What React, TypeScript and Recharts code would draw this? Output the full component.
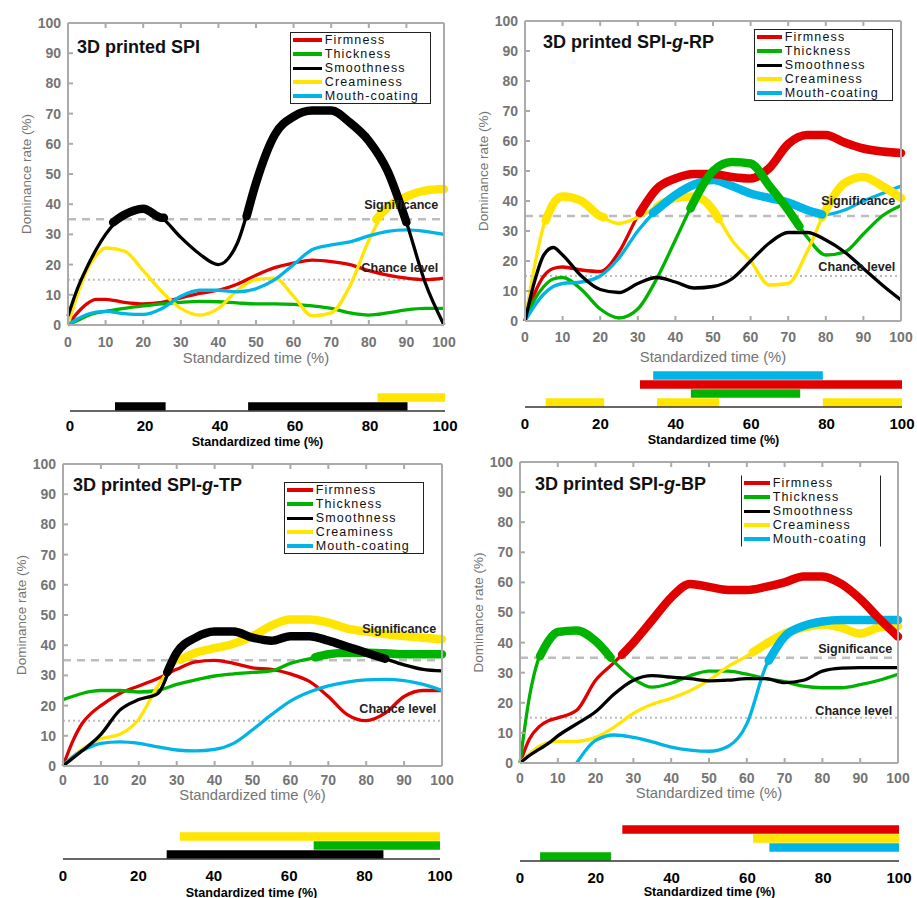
import React from 'react';
import { LineChart, Line, XAxis, YAxis, ReferenceLine, ReferenceDot } from 'recharts';

// ---------- shared categories / ticks ----------
const TIME = [0, 2.5, 5, 7.5, 10, 15, 20, 25, 30, 35, 40, 45, 50, 55, 60, 65, 70, 75, 80, 85, 90, 95, 100];
const ATTRIBUTES = ['Firmness', 'Thickness', 'Smoothness', 'Creaminess', 'Mouth-coating'];
const COLORS = ['#e10000', '#00b300', '#000000', '#ffe500', '#00b5e5'];
const AXIS_TICKS = [0, 10, 20, 30, 40, 50, 60, 70, 80, 90, 100];
const STRIP_TICKS = [0, 20, 40, 60, 80, 100];
const SIGNIFICANCE_LEVEL = 35;
const CHANCE_LEVEL = 15;

// ---------- 3D printed SPI ----------
const SPI_FIRMNESS = [0, 4, 7, 8.5, 8.5, 7.5, 7, 7.5, 9, 10.5, 11.5, 13.5, 16.5, 19, 20.5, 21.5, 21, 20, 18, 16.5, 15.5, 15, 15.5];
const SPI_THICKNESS = [0, 1.5, 3, 4, 4.5, 5.5, 6.3, 7, 7.5, 7.8, 7.7, 7.3, 7, 7, 6.8, 6.3, 5.5, 4, 3.3, 4, 5, 5.5, 5.5];
const SPI_SMOOTHNESS = [3, 12, 19, 25, 30, 36.5, 38.5, 35.5, 29, 23.5, 20, 27, 47, 63, 69, 71, 71, 67, 61, 51, 34, 14, 0];
const SPI_CREAMINESS = [0, 10, 18, 23, 25.5, 24.5, 18, 11, 5.5, 3.3, 5.5, 11.5, 15, 15.5, 9.5, 3, 4, 13, 28, 39, 42.5, 44.5, 45];
const SPI_MOUTHCOATING = [0, 2, 3.5, 4.3, 4.5, 3.8, 3.5, 5.5, 9.5, 11.5, 11.5, 11, 12, 15, 20, 25, 26.5, 27.5, 29.5, 31, 31.5, 31, 30];
const SPI_SIGNIFICANT = [
  { attr: 3, start: 82, end: 100, yStart: 35, yEnd: 45 },
  { attr: 2, start: 12, end: 25.5, yStart: 34, yEnd: 35.5 },
  { attr: 2, start: 47.5, end: 90, yStart: 36, yEnd: 34 },
];
const SPI_STRIP_ROWS = [2, 3];
const SPI_LEVEL_LABEL_Y = [39.8, 19];

// ---------- 3D printed SPI-g-RP ----------
const RP_FIRMNESS = [0, 9, 15, 17.5, 18, 17, 16.5, 23, 35, 44, 47.5, 49, 49, 48, 47.5, 51, 59, 62, 62, 59.5, 57.5, 56.5, 56];
const RP_THICKNESS = [0, 7, 11.5, 14, 14.5, 10.5, 4, 1, 4, 14, 27, 40, 50, 53, 52.5, 45, 37, 28, 22, 23, 29, 35, 38.5];
const RP_SMOOTHNESS = [0, 13, 22, 24.5, 22, 15, 10.5, 9.5, 12.5, 14.5, 13, 11, 11.5, 14, 20, 26, 29.5, 29.5, 27, 23, 17.5, 12, 7];
const RP_CREAMINESS = [0, 18, 32, 39, 41.5, 40, 35, 32.5, 34.5, 38, 41, 41.5, 37, 27, 20, 12, 12.5, 23, 37, 46, 48, 45, 41];
const RP_MOUTHCOATING = [0, 5, 9, 11.5, 12.5, 13, 15, 21, 30, 37, 42, 45.5, 47, 45, 42.5, 41, 39.5, 37, 35.5, 37, 40, 42.5, 45];
const RP_SIGNIFICANT = [
  { attr: 3, start: 5.5, end: 21, yStart: 33.5, yEnd: 34.5 },
  { attr: 3, start: 35, end: 51.5, yStart: 38, yEnd: 34 },
  { attr: 3, start: 79, end: 100, yStart: 34.5, yEnd: 41 },
  { attr: 4, start: 34, end: 79, yStart: 36, yEnd: 35.5 },
  { attr: 0, start: 30.5, end: 100, yStart: 36, yEnd: 56 },
  { attr: 1, start: 44, end: 73, yStart: 37.5, yEnd: 31.5 },
];
const RP_STRIP_ROWS = [3, 1, 0, 4];
const RP_LEVEL_LABEL_Y = [40, 18.2];

// ---------- 3D printed SPI-g-TP ----------
const TP_FIRMNESS = [0, 8, 14, 17.5, 20, 24, 26.5, 29, 32, 34.5, 35, 34, 32.5, 32, 30.5, 28, 23, 17, 15, 17.5, 23, 25, 25];
const TP_THICKNESS = [22, 23, 24, 24.7, 25, 25, 24.5, 25, 27, 28.5, 29.8, 30.5, 31, 31.5, 34, 35.5, 37, 37.5, 37.5, 37.3, 37, 37, 37];
const TP_SMOOTHNESS = [0, 2.5, 5, 7.5, 10.5, 18.5, 22, 24, 37.5, 42.5, 44.5, 44.5, 42.5, 41.5, 43, 43, 41.5, 39.5, 37.5, 35.5, 33.5, 32, 31.5];
const TP_CREAMINESS = [0, 3, 5.5, 7.5, 9, 10.5, 15.5, 26.5, 34.5, 37.5, 39, 40.5, 43, 46.5, 48.5, 48.5, 47.5, 45.5, 44.5, 43.7, 43, 42.5, 42];
const TP_MOUTHCOATING = [0, 3, 5, 6.5, 7.5, 8, 7.5, 6.3, 5.3, 5, 5.5, 7.5, 12, 17, 21.5, 24.5, 26.5, 27.8, 28.5, 28.7, 28.3, 27, 25];
const TP_SIGNIFICANT = [
  { attr: 3, start: 31, end: 100, yStart: 35.2, yEnd: 42 },
  { attr: 1, start: 66.5, end: 100, yStart: 36, yEnd: 37 },
  { attr: 2, start: 27.5, end: 85, yStart: 31, yEnd: 35.5 },
];
const TP_STRIP_ROWS = [2, 1, 3];
const TP_LEVEL_LABEL_Y = [45.6, 19.1];

// ---------- 3D printed SPI-g-BP ----------
const BP_FIRMNESS = [0, 8, 12, 14, 15, 17.5, 27.5, 33.5, 40, 47.5, 55, 59.5, 58.5, 57.5, 57.5, 58.5, 60, 62, 62, 59.5, 54.5, 48, 42];
const BP_THICKNESS = [0, 22, 35, 40.5, 43.5, 44, 40.5, 33.5, 28, 25.2, 26.5, 29, 30.5, 30.5, 29.5, 28, 27, 25.5, 25, 25, 26, 27.5, 29.5];
const BP_SMOOTHNESS = [0, 2.5, 4.5, 6.5, 9, 13, 17, 23, 27.5, 29, 28.5, 28, 27.3, 27.5, 28, 28, 26.7, 27.5, 30.5, 31.5, 31.7, 31.7, 31.7];
const BP_CREAMINESS = [0, 3, 5.5, 6.8, 7.2, 7.2, 8.5, 12, 16.5, 19.5, 21.5, 24, 27.5, 32, 35.5, 39.5, 43, 45, 46, 45, 43, 45, 45.5];
const BP_MOUTHCOATING = [null, null, null, null, null, 0, 7.5, 9.3, 8.5, 7, 5.3, 4.3, 3.9, 5.5, 13, 32, 42, 45.5, 47, 47.5, 47.5, 47.5, 47.5];
const BP_SIGNIFICANT = [
  { attr: 1, start: 5.3, end: 24, yStart: 35.5, yEnd: 35 },
  { attr: 3, start: 61.5, end: 100, yStart: 36.7, yEnd: 45.5 },
  { attr: 4, start: 65.8, end: 100, yStart: 34, yEnd: 47.5 },
  { attr: 0, start: 27, end: 100, yStart: 36, yEnd: 42 },
];
const BP_STRIP_ROWS = [1, 4, 3, 0];
const BP_LEVEL_LABEL_Y = [38.1, 17.5];

// ---------- styling ----------
const FONT = '"Liberation Sans", Arial, Helvetica, sans-serif';
const FRAME = '#ababab';
const TICK_COLOR = '#747474';
const LEVEL_COLOR = '#bdbdbd';
const THIN_ORDER = [0, 1, 3, 4, 2];
const LEGEND_STROKE = [3.5, 4, 3, 4.5, 4];

type Interval = { attr: number; start: number; end: number; yStart: number; yEnd: number };
interface PanelDef {
  title: React.ReactNode;
  series: (number | null)[][];
  significant: Interval[];
  stripRows: number[];
  levelLabelY: number[];
  frame: { x0: number; x100: number; yTop: number; yBot: number; tickGap: number; xLabelOffset: number };
  titlePos: { left: number; cy: number };
  legendBox: { left: number; top: number; width: number; lineW: number; sidesOnly?: boolean };
  strip: { x0: number; x100: number; base: number; tickGap: number; labelOffset: number };
}

const PANELS: PanelDef[] = [
  {
    title: <>3D printed SPI</>,
    series: [SPI_FIRMNESS, SPI_THICKNESS, SPI_SMOOTHNESS, SPI_CREAMINESS, SPI_MOUTHCOATING],
    significant: SPI_SIGNIFICANT,
    stripRows: SPI_STRIP_ROWS,
    levelLabelY: SPI_LEVEL_LABEL_Y,
    frame: { x0: 67.5, x100: 443.5, yTop: 23, yBot: 325, tickGap: 17, xLabelOffset: 6 },
    titlePos: { left: 77, cy: 47 },
    legendBox: { left: 291, top: 32, width: 139, lineW: 29 },
    strip: { x0: 70, x100: 445, base: 411, tickGap: 9, labelOffset: 5.5 },
  },
  {
    title: <>3D printed SPI-<i>g</i>-RP</>,
    series: [RP_FIRMNESS, RP_THICKNESS, RP_SMOOTHNESS, RP_CREAMINESS, RP_MOUTHCOATING],
    significant: RP_SIGNIFICANT,
    stripRows: RP_STRIP_ROWS,
    levelLabelY: RP_LEVEL_LABEL_Y,
    frame: { x0: 525, x100: 901, yTop: 21, yBot: 321, tickGap: 16, xLabelOffset: 3 },
    titlePos: { left: 543, cy: 42 },
    legendBox: { left: 755, top: 29, width: 137, lineW: 25 },
    strip: { x0: 525, x100: 902, base: 407, tickGap: 11, labelOffset: 3.5 },
  },
  {
    title: <>3D printed SPI-<i>g</i>-TP</>,
    series: [TP_FIRMNESS, TP_THICKNESS, TP_SMOOTHNESS, TP_CREAMINESS, TP_MOUTHCOATING],
    significant: TP_SIGNIFICANT,
    stripRows: TP_STRIP_ROWS,
    levelLabelY: TP_LEVEL_LABEL_Y,
    frame: { x0: 63, x100: 442, yTop: 464, yBot: 766, tickGap: 14, xLabelOffset: 10 },
    titlePos: { left: 73, cy: 485 },
    legendBox: { left: 285, top: 482, width: 138, lineW: 26 },
    strip: { x0: 63, x100: 440, base: 859, tickGap: 11, labelOffset: 2.5 },
  },
  {
    title: <>3D printed SPI-<i>g</i>-BP</>,
    series: [BP_FIRMNESS, BP_THICKNESS, BP_SMOOTHNESS, BP_CREAMINESS, BP_MOUTHCOATING],
    significant: BP_SIGNIFICANT,
    stripRows: BP_STRIP_ROWS,
    levelLabelY: BP_LEVEL_LABEL_Y,
    frame: { x0: 520, x100: 898, yTop: 462, yBot: 763, tickGap: 15, xLabelOffset: 9 },
    titlePos: { left: 535, cy: 484 },
    legendBox: { left: 742, top: 475, width: 138, lineW: 26, sidesOnly: true },
    strip: { x0: 520, x100: 899, base: 861, tickGap: 11, labelOffset: 4.8 },
  },
];

const YW = 84;
const TOPH = 10;
const RIGHTW = 18;
const BOTH = 44;

function MainChart({ p }: { p: PanelDef }) {
  const f = p.frame;
  const width = f.x100 - f.x0 + YW + RIGHTW;
  const height = f.yBot - f.yTop + TOPH + BOTH;
  const rows = TIME.map((t, i) => {
    const r: Record<string, number | null> = { x: t };
    p.series.forEach((s, k) => {
      r['a' + k] = s[i];
    });
    return r;
  });
  const thick = (iv: Interval) => {
    const s = p.series[iv.attr];
    const pts: { x: number; y: number }[] = [{ x: iv.start, y: iv.yStart }];
    TIME.forEach((t, i) => {
      const v = s[i];
      if (t > iv.start && t < iv.end && v != null) pts.push({ x: t, y: v });
    });
    pts.push({ x: iv.end, y: iv.yEnd });
    return pts;
  };
  const line = { stroke: FRAME, strokeWidth: 2 };
  const levelLabel = (value: string) => ({
    value,
    position: 'left' as const,
    offset: 0,
    fill: '#222',
    fontSize: 12.6,
    fontWeight: 700,
  });
  return (
    <div style={{ position: 'absolute', left: f.x0 - YW, top: f.yTop - TOPH }}>
      <LineChart width={width} height={height} data={rows} margin={{ top: 0, right: 0, bottom: 0, left: 0 }}>
        <XAxis
          type="number"
          dataKey="x"
          domain={[0, 100]}
          ticks={AXIS_TICKS}
          interval={0}
          height={BOTH}
          tickSize={-5}
          tickMargin={f.tickGap}
          axisLine={line}
          tickLine={line}
          tick={{ fill: TICK_COLOR, fontSize: 14, fontWeight: 700 }}
          label={{ value: 'Standardized time (%)', position: 'insideBottom', offset: f.xLabelOffset, fill: TICK_COLOR, fontSize: 14.8 }}
        />
        <XAxis
          xAxisId="top"
          orientation="top"
          type="number"
          dataKey="x"
          domain={[0, 100]}
          ticks={AXIS_TICKS}
          interval={0}
          height={TOPH}
          tickSize={-5}
          axisLine={line}
          tickLine={line}
          tickFormatter={() => ''}
        />
        <YAxis
          type="number"
          domain={[0, 100]}
          ticks={AXIS_TICKS}
          interval={0}
          width={YW}
          tickSize={-5}
          tickMargin={12}
          axisLine={line}
          tickLine={line}
          tick={{ fill: TICK_COLOR, fontSize: 14, fontWeight: 700 }}
          label={{ value: 'Dominance rate (%)', angle: -90, position: 'center', fill: TICK_COLOR, fontSize: 13.5 }}
        />
        <YAxis
          yAxisId="right"
          orientation="right"
          type="number"
          domain={[0, 100]}
          ticks={AXIS_TICKS}
          interval={0}
          width={RIGHTW}
          tickSize={-5}
          axisLine={line}
          tickLine={line}
          tickFormatter={() => ''}
        />
        <ReferenceLine y={SIGNIFICANCE_LEVEL} stroke={LEVEL_COLOR} strokeWidth={2.5} strokeDasharray="8 6" />
        <ReferenceLine y={CHANCE_LEVEL} stroke={LEVEL_COLOR} strokeWidth={2} strokeDasharray="2 3" />
        <ReferenceDot x={98.5} y={p.levelLabelY[0]} r={0} fill="none" stroke="none" label={levelLabel('Significance')} />
        <ReferenceDot x={98.5} y={p.levelLabelY[1]} r={0} fill="none" stroke="none" label={levelLabel('Chance level')} />
        {THIN_ORDER.map((k) => (
          <Line
            key={'thin' + k}
            dataKey={'a' + k}
            type="monotone"
            stroke={COLORS[k]}
            strokeWidth={3.3}
            dot={false}
            activeDot={false}
            isAnimationActive={false}
          />
        ))}
        {p.significant.map((iv, j) => (
          <Line
            key={'sig' + j}
            data={thick(iv)}
            dataKey="y"
            type="monotone"
            stroke={COLORS[iv.attr]}
            strokeWidth={8.5}
            strokeLinecap="round"
            dot={false}
            activeDot={false}
            isAnimationActive={false}
          />
        ))}
      </LineChart>
    </div>
  );
}

const STRIP_L = 20;
const STRIP_R = 20;
const STRIP_T = 4;
const STRIP_BH = 40;
const STRIP_ROWS_N = 5;
const STRIP_ROW_PX = 9;

function StripChart({ p }: { p: PanelDef }) {
  const s = p.strip;
  const rowsH = STRIP_ROWS_N * STRIP_ROW_PX;
  const width = s.x100 - s.x0 + STRIP_L + STRIP_R;
  const height = STRIP_T + rowsH + STRIP_BH;
  return (
    <div style={{ position: 'absolute', left: s.x0 - STRIP_L, top: s.base - rowsH - STRIP_T }}>
      <LineChart width={width} height={height} margin={{ top: STRIP_T, right: STRIP_R, bottom: 0, left: STRIP_L }}>
        <XAxis
          type="number"
          dataKey="x"
          domain={[0, 100]}
          ticks={STRIP_TICKS}
          interval={0}
          height={STRIP_BH}
          tickLine={false}
          tickSize={0}
          tickMargin={s.tickGap}
          axisLine={{ stroke: '#333', strokeWidth: 1.5 }}
          tick={{ fill: '#000', fontSize: 15, fontWeight: 700 }}
          label={{ value: 'Standardized time (%)', position: 'insideBottom', offset: s.labelOffset, fill: '#000', fontSize: 12.6, fontWeight: 700 }}
        />
        <YAxis type="number" domain={[0, STRIP_ROWS_N]} hide />
        {p.significant.map((iv, j) => {
          const row = p.stripRows.indexOf(iv.attr) + 0.5;
          return (
            <Line
              key={'bar' + j}
              data={[
                { x: iv.start, y: row },
                { x: iv.end, y: row },
              ]}
              dataKey="y"
              type="linear"
              stroke={COLORS[iv.attr]}
              strokeWidth={8.5}
              dot={false}
              activeDot={false}
              isAnimationActive={false}
            />
          );
        })}
      </LineChart>
    </div>
  );
}

const LEGEND_ROW = 14;

function LegendBox({ p }: { p: PanelDef }) {
  const b = p.legendBox;
  const border = '1.3px solid #222';
  return (
    <div
      style={{
        position: 'absolute',
        left: b.left,
        top: b.top,
        width: b.width,
        height: ATTRIBUTES.length * LEGEND_ROW,
        boxSizing: 'content-box',
        background: '#fff',
        borderLeft: border,
        borderRight: border,
        borderTop: b.sidesOnly ? '1.3px solid transparent' : border,
        borderBottom: b.sidesOnly ? '1.3px solid transparent' : border,
        marginLeft: -1.3,
      }}
    >
      {ATTRIBUTES.map((name, k) => (
        <div key={name} style={{ display: 'flex', alignItems: 'center', height: LEGEND_ROW }}>
          <span style={{ display: 'block', flex: 'none', width: b.lineW, height: LEGEND_STROKE[k], background: COLORS[k], marginLeft: 2 }} />
          <span
            style={{
              display: 'block',
              marginLeft: 3,
              fontSize: 12.5,
              letterSpacing: '1.15px',
              lineHeight: LEGEND_ROW + 'px',
              color: '#111',
              whiteSpace: 'nowrap',
            }}
          >
            {name}
          </span>
        </div>
      ))}
    </div>
  );
}

function Title({ p }: { p: PanelDef }) {
  return (
    <div
      style={{
        position: 'absolute',
        left: p.titlePos.left,
        top: p.titlePos.cy - 11,
        fontSize: 18,
        fontWeight: 700,
        lineHeight: '22px',
        color: '#111',
        whiteSpace: 'nowrap',
      }}
    >
      {p.title}
    </div>
  );
}

export default function App() {
  return (
    <div style={{ position: 'absolute', left: 0, top: 0, width: 917, height: 898, background: '#fff', fontFamily: FONT, overflow: 'hidden' }}>
      {PANELS.map((p, i) => (
        <React.Fragment key={'c' + i}>
          <MainChart p={p} />
          <StripChart p={p} />
        </React.Fragment>
      ))}
      {PANELS.map((p, i) => (
        <React.Fragment key={'o' + i}>
          <LegendBox p={p} />
          <Title p={p} />
        </React.Fragment>
      ))}
    </div>
  );
}
